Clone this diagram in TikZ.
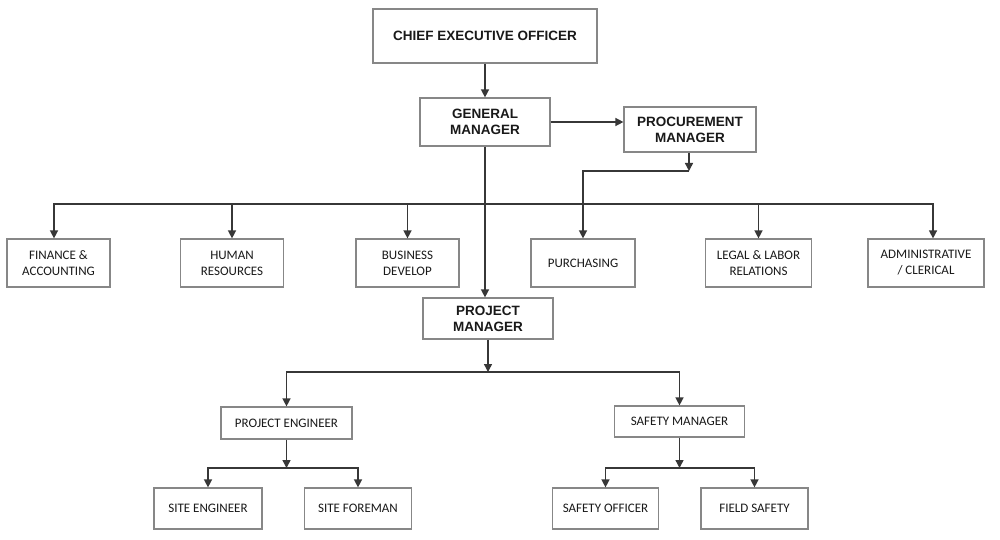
\documentclass[tikz,border=0pt]{standalone}
\usepackage{fontspec}
\setmainfont{Liberation Sans}
\newfontfamily\unitfont{Carlito}
\usetikzlibrary{arrows.meta, positioning, calc}
\definecolor{boxgray} {RGB}{135,135,135}
\definecolor{linegray}{RGB}{55,55,55}
\definecolor{txtblack}{RGB}{25,25,25}

\tikzset{
  topbox/.style={draw=boxgray, line width=1.2pt, fill=white, text=txtblack,
                 align=center, inner sep=2pt,
                 font=\fontsize{13.5}{16}\selectfont\bfseries},
  unitbox/.style={draw=boxgray, line width=1.2pt, fill=white, text=txtblack,
                  align=center, inner sep=2pt,
                  font=\unitfont\fontsize{13}{16}\selectfont},
  arr/.style={draw=linegray, line width=1.4pt,
              -{Triangle[length=8pt,width=8pt]}},
  dbl/.style={draw=linegray, line width=1.4pt,
              {Triangle[length=8pt,width=8pt]}-{Triangle[length=8pt,width=8pt]}}
}

\begin{document}
\begin{tikzpicture}[x=1pt, y=-1pt]
  \useasboundingbox[fill=white] (0,0) rectangle (1000,540);

  % management
  \node[topbox, minimum width=224, minimum height=54] (ceo) at (485,36)
    {CHIEF EXECUTIVE OFFICER};
  \node[topbox, minimum width=130, minimum height=48] (gm) at (485,122)
    {GENERAL\\MANAGER};
  \node[topbox, minimum width=132, minimum height=45] (procmgr) at (690,129.5)
    {PROCUREMENT\\MANAGER};

  % departments
  \node[unitbox, minimum width=103, minimum height=48] (fin)    at (58.5,263)  {FINANCE \&\\ACCOUNTING};
  \node[unitbox, minimum width=103, minimum height=48] (hr)     at (232,263)   {HUMAN\\RESOURCES};
  \node[unitbox, minimum width=103, minimum height=48] (bizdev) at (407.5,263) {BUSINESS\\DEVELOP};
  \node[unitbox, minimum width=104, minimum height=48] (purch)  at (583,263)   {PURCHASING};
  \node[unitbox, minimum width=106, minimum height=48] (legal)  at (758.5,263) {LEGAL \& LABOR\\RELATIONS};
  \node[unitbox, minimum width=116, minimum height=48] (admin)  at (926,263)   {ADMINISTRATIVE\\/ CLERICAL};

  % project side
  \node[topbox, minimum width=130, minimum height=41] (projmgr) at (488,318.5)
    {PROJECT\\MANAGER};
  \node[unitbox, minimum width=131, minimum height=32] (projeng) at (286.5,423) {PROJECT ENGINEER};
  \node[unitbox, minimum width=130, minimum height=31] (safemgr) at (679.5,421.5) {SAFETY MANAGER};

  \node[unitbox, minimum width=108, minimum height=41] (siteeng)   at (208,508.5)   {SITE ENGINEER};
  \node[unitbox, minimum width=107, minimum height=41] (sitefore)  at (358,508.5)   {SITE FOREMAN};
  \node[unitbox, minimum width=106, minimum height=41] (safeoff)   at (605.5,508.5) {SAFETY OFFICER};
  \node[unitbox, minimum width=107, minimum height=41] (fieldsafe) at (754.5,508.5) {FIELD SAFETY};

  % junction points
  \coordinate (bus)    at (54,204);
  \coordinate (busend) at (933,204);
  \coordinate (pj)     at (689,171);
  \coordinate (j2)     at (488,372);
  \coordinate (j3)     at (286.5,468);
  \coordinate (j4)     at (679.5,468);

  % connectors
  \draw[arr] (ceo) -- (gm);
  \draw[arr] (gm) -- (gm -| procmgr.west);
  \draw[arr] (gm.south) -- (gm.south |- projmgr.north);

  \draw[dbl] (bus |- fin.north) -- (bus) -- (busend) -- (busend |- admin.north);
  \foreach \n in {hr, bizdev, legal}
    \draw[arr] (\n.north |- bus) -- (\n.north);

  \draw[arr] (procmgr.south -| pj) -- (pj);
  \draw[arr] (pj) -| (purch.north);

  \draw[arr] (projmgr.south) -- (j2);
  \draw[dbl] (projeng.north) -- (projeng.north |- j2) -- (safemgr.north |- j2) -- (safemgr.north);

  \draw[arr] (projeng.south) -- (j3);
  \draw[dbl] (siteeng.north) -- (siteeng.north |- j3) -- (sitefore.north |- j3) -- (sitefore.north);
  \draw[arr] (safemgr.south) -- (j4);
  \draw[dbl] (safeoff.north) -- (safeoff.north |- j4) -- (fieldsafe.north |- j4) -- (fieldsafe.north);
\end{tikzpicture}
\end{document}
